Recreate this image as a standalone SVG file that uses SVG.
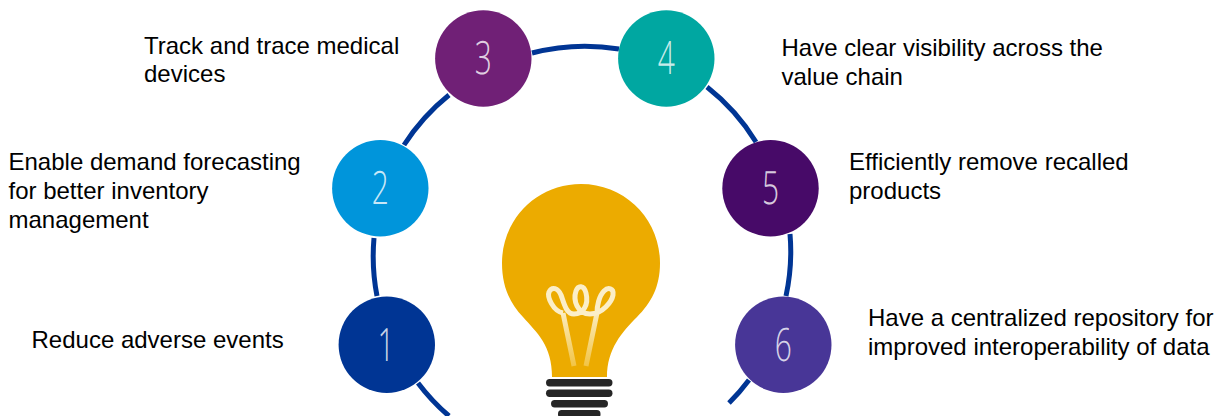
<svg xmlns="http://www.w3.org/2000/svg" width="1230" height="416" viewBox="0 0 1230 416">
<style>
.t{font-family:"Liberation Sans",Arial,sans-serif;font-size:24px;fill:#000}
.n{font-family:"Open Sans","Liberation Sans",sans-serif;font-weight:300;font-size:46px;fill:#fff;fill-opacity:.8;text-anchor:middle;text-rendering:geometricPrecision}
.c{fill:none;stroke:#003594;stroke-width:5}
.b{fill:#262626}
</style>
<defs>
<linearGradient id="fg" x1="0" y1="310" x2="0" y2="366" gradientUnits="userSpaceOnUse"><stop offset="0" stop-color="#fbeec4"/><stop offset="1" stop-color="#f2c445"/></linearGradient>
</defs>
<rect width="1230" height="416" fill="#fff"/>
<g id="connectors">
<path class="c" d="M532 53 A209 209 0 0 1 619 49"/>
<path class="c" d="M707 87 A209 209 0 0 1 756 142"/>
<path class="c" d="M790 234 A209 209 0 0 1 786 296"/>
<path class="c" d="M749 380 A209 209 0 0 1 729 403"/>
<path class="c" d="M404 145 A209 209 0 0 1 449 95"/>
<path class="c" d="M374 238 A209 209 0 0 0 377 296"/>
<path class="c" d="M418 383 A209 209 0 0 0 449 416"/>
</g>
<g id="bulb">
<path fill="#ecab00" d="M581 184C537 184 502 219 502 263C502 287 510 303 523 317C537 333 552 345 552 377L607 377C607 349 622 332 637 317C651 303 660 287 660 263C660 219 625 184 581 184Z"/>
<path fill="none" stroke="url(#fg)" stroke-width="5" d="M574 366L563 313M586 366L597 313"/>
<path fill="none" stroke="#fbeec8" stroke-width="5" d="M563 313C553 311 547 297 549 292C552 286 558 288 561 295C564 303 566 314 574 314C583 314 589 305 586 293C584 285 578 285 576 291C573 300 577 314 590 314C603 314 612 301 613 295C614 288 608 287 604 291C599 296 597 306 597 313"/>
<rect class="b" x="546" y="379" width="66.500" height="7.500" rx="3.700"/>
<rect class="b" x="546" y="389.500" width="66.500" height="7.500" rx="3.700"/>
<rect class="b" x="551" y="400" width="57" height="7.500" rx="3.700"/>
<rect class="b" x="558" y="410" width="42.500" height="8" rx="3.700"/>
</g>
<g id="node1"><circle cx="386.800" cy="344.700" r="48.200" fill="#003594"/><text class="n" transform="translate(386 361) scale(.65 1)">1</text><text class="t" x="31.500" y="348">Reduce adverse events</text></g>
<g id="node2"><circle cx="380.300" cy="188.300" r="48.200" fill="#0095db"/><text class="n" transform="translate(380.300 204) scale(.65 1)">2</text><text class="t" x="8.500" y="170">Enable demand forecasting</text><text class="t" x="8.500" y="199">for better inventory</text><text class="t" x="8.500" y="228">management</text></g>
<g id="node3"><circle cx="483.300" cy="58.500" r="48.200" fill="#702076"/><text class="n" transform="translate(483.300 74) scale(.65 1)">3</text><text class="t" x="144" y="54">Track and trace medical</text><text class="t" x="144" y="82">devices</text></g>
<g id="node4"><circle cx="666.300" cy="58.500" r="48.200" fill="#00a7a1"/><text class="n" transform="translate(666.300 74) scale(.65 1)">4</text><text class="t" x="781.500" y="56">Have clear visibility across the</text><text class="t" x="781.500" y="85">value chain</text></g>
<g id="node5"><circle cx="770.500" cy="188.300" r="48.200" fill="#470a68"/><text class="n" transform="translate(770.500 204) scale(.65 1)">5</text><text class="t" x="849" y="170">Efficiently remove recalled</text><text class="t" x="849" y="199">products</text></g>
<g id="node6"><circle cx="783.300" cy="344.700" r="48.200" fill="#483697"/><text class="n" transform="translate(783.300 360.500) scale(.65 1)">6</text><text class="t" x="868" y="326">Have a centralized repository for</text><text class="t" x="868" y="355">improved interoperability of data</text></g>
</svg>
